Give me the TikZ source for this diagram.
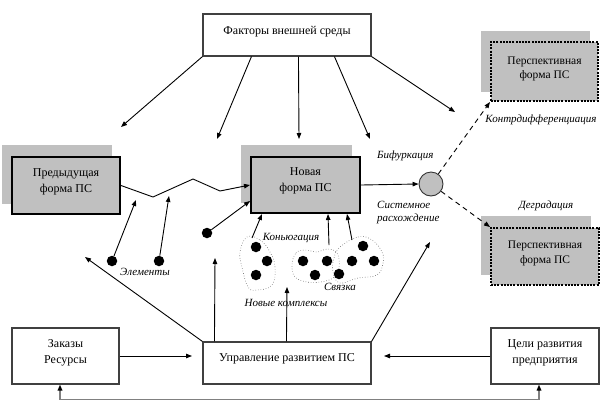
\documentclass[tikz,border=0pt]{standalone}
\usepackage{fontspec}
\setmainfont{Liberation Serif}
\newfontfamily\tnr{Liberation Serif}
\usetikzlibrary{arrows.meta,backgrounds,calc}
\definecolor{silver}{RGB}{192,192,192}
\begin{document}
\begin{tikzpicture}[x=1pt,y=-1pt,
  arr/.style={-{Triangle[length=6pt,width=4.5pt]}, line width=0.9pt},
  dash arr/.style={arr, dash pattern=on 5pt off 4pt},
  wbox/.style={draw=black!75, line width=1.1pt, fill=white, align=center, inner sep=0pt, font=\tnr\fontsize{12}{16}\selectfont},
  gbox/.style={draw=black, line width=2pt, fill=silver, align=center, inner sep=0pt, font=\tnr\fontsize{12}{16}\selectfont},
  pbox/.style={draw=black, line width=2pt, dash pattern=on 2pt off 1.2pt, fill=silver, align=center, inner sep=0pt, font=\tnr\fontsize{11.5}{14.5}\selectfont},
  shadowfill/.style={fill=silver},
  lab/.style={font=\tnr\fontsize{11}{13}\selectfont\itshape, inner sep=0pt},
  blob/.style={draw=black!60, dotted, line width=0.6pt},
  dot/.style={circle, fill=black, minimum size=10.5pt, inner sep=0pt},
]
\path[use as bounding box] (0,0) rectangle (612,416);

% boxes
\node[wbox, minimum width=168pt, minimum height=42pt, text depth=10pt] (fact) at (287,35) {Факторы внешней среды};
\node[gbox, minimum width=108pt, minimum height=57pt, text depth=10pt] (prev) at (66,185.5) {Предыдущая\\форма ПС};
\node[gbox, minimum width=109pt, minimum height=56pt, text depth=10pt] (new) at (305.5,185) {Новая\\форма ПС};
\node[pbox, minimum width=107pt, minimum height=59pt, text depth=8pt] (pers1) at (544.5,71.5) {Перспективная\\форма ПС};
\node[pbox, minimum width=108pt, minimum height=57pt, text depth=9pt] (pers2) at (545,256.5) {Перспективная\\форма ПС};
\node[wbox, minimum width=107pt, minimum height=56pt, text depth=8.5pt] (orders) at (65.5,356) {Заказы\\Ресурсы};
\node[wbox, minimum width=168pt, minimum height=42pt, text depth=10.5pt] (ctrl) at (287,363) {Управление развитием ПС};
\node[wbox, minimum width=108pt, minimum height=56pt, text depth=8.5pt] (goals) at (545,356) {Цели развития\\предприятия};
\node[circle, draw=black!80, line width=0.9pt, fill=silver, minimum size=24pt, inner sep=0pt] (bif) at (431,184) {};

% shadows
\begin{scope}[on background layer]
  \fill[shadowfill] ([xshift=-9pt,yshift=11pt]prev.south west) rectangle ([xshift=-9pt,yshift=11pt]prev.north east);
  \fill[shadowfill] ([xshift=-9pt,yshift=11pt]new.south west) rectangle ([xshift=-9pt,yshift=11pt]new.north east);
  \fill[shadowfill] ([xshift=-9pt,yshift=10pt]pers1.south west) rectangle ([xshift=-9pt,yshift=10pt]pers1.north east);
  \fill[shadowfill] ([xshift=-9pt,yshift=11pt]pers2.south west) rectangle ([xshift=-9pt,yshift=11pt]pers2.north east);
\end{scope}

% arrows from external factors
\coordinate (f1) at (121,127);
\coordinate (f2) at (217,139);
\coordinate (f3) at (299,139);
\coordinate (f4) at (370,139);
\coordinate (f5) at (455,112);
\draw[arr] (fact.south west) -- (f1);
\draw[arr] ([xshift=49pt]fact.south west) -- (f2);
\draw[arr] ([xshift=96pt]fact.south west) -- (f3);
\draw[arr] ([xshift=132pt]fact.south west) -- (f4);
\draw[arr] (fact.south east) -- (f5);

% zigzag
\draw[arr] (prev.east) -- (153,197) -- (193,179) -- (220,191) -- (new.west);

% elements
\node[dot] (e1) at (112,261) {};
\node[dot] (e2) at (159,261) {};
\node[dot] (e3) at (207,233) {};
\coordinate (z1) at (136,200);
\coordinate (z2) at (169,196);
\draw[arr] (e1) -- (z1);
\draw[arr] (e2) -- (z2);
\draw[arr] (e3) -- ([yshift=-16pt]new.west);

% blobs
\draw[blob] plot[smooth cycle, tension=0.7] coordinates {(247,237) (260,240) (270,252) (275,267) (272,285) (257,290) (248,287) (242,267) (240,252)};
\draw[blob] plot[smooth cycle, tension=0.7] coordinates {(292,265) (296,253) (305,250) (317,252) (327,249) (337,253) (339,268) (333,278) (320,282) (307,282) (295,277)};
\draw[blob] plot[smooth cycle, tension=0.7] coordinates {(340,247) (358,237) (372,240) (382,252) (383,263) (377,275) (358,278) (340,283) (333,272) (334,258)};
\node[dot] (d1) at (256,247) {};
\node[dot] (d2) at (267,261) {};
\node[dot] (d3) at (256,275) {};
\node[dot] (d4) at (303,261) {};
\node[dot] (d5) at (327,261) {};
\node[dot] (d6) at (315,275) {};
\node[dot] (d7) at (363,246) {};
\node[dot] (d8) at (352,261) {};
\node[dot] (d9) at (374,261) {};
\node[dot] (d10) at (339,274) {};
\coordinate (b1) at (252,238);
\coordinate (b2) at (329,245);
\coordinate (b3) at (352,240);
\draw[arr] (b1) -- ([xshift=12pt]new.south west);
\draw[arr] (b2) -- ([xshift=78pt]new.south west);
\draw[arr] (b3) -- ([xshift=97pt]new.south west);

% bifurcation
\draw[arr] (new.east) -- (bif.west);
\draw[dash arr] (bif.54) -- (pers1.south west);
\draw[dash arr] (bif.-36) -- (pers2.north west);

% control links
\coordinate (c1) at (85,257);
\coordinate (c2) at (215,258);
\coordinate (c3) at (287,287);
\coordinate (c4) at (430,242);
\draw[arr] (ctrl.north west) -- (c1);
\draw[arr] ([xshift=12pt]ctrl.north west) -- (c2);
\draw[arr] ([xshift=84pt]ctrl.north west) -- (c3);
\draw[arr] (ctrl.north east) -- (c4);

\coordinate (o1) at (192,356);
\coordinate (g1) at (384,356);
\draw[arr] (orders.east) -- (o1);
\draw[arr] (goals.west) -- (g1);
\draw[line width=1.8pt, black!50, {Triangle[length=6pt,width=4.5pt,black]}-{Triangle[length=6pt,width=4.5pt,black]}]
  ([xshift=-5.5pt]orders.south) -- ++(0,15) -| ([xshift=-6pt]goals.south);

% labels
\node[lab] (lel) at (145,272) {Элементы};
\node[lab, anchor=west] (lbif) at (377,156) {Бифуркация};
\node[lab, anchor=west, align=left] (lsys) at (377,212.5) {Системное\\расхождение};
\node[lab] (ldeg) at (546,206) {Деградация};
\node[lab] (lcon) at (541,120) {Контрдифференциация};
\node[lab] (lkon) at (291,238) {Коньюгация};
\node[lab] (lsv) at (340,287) {Связка};
\node[lab] (lnk) at (286,303) {Новые комплексы};
\end{tikzpicture}
\end{document}
